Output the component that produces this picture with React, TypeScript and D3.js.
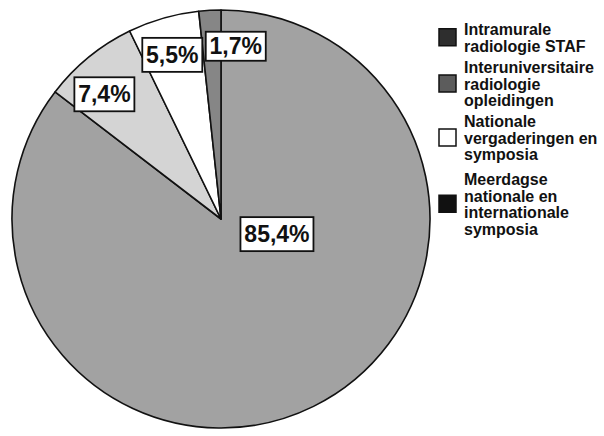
import React from "react";
import * as d3 from "d3";

const categories = [
  "Intramurale radiologie STAF",
  "Interuniversitaire radiologie opleidingen",
  "Nationale vergaderingen en symposia",
  "Meerdagse nationale en internationale symposia",
];
const values = [85.4, 7.4, 5.5, 1.7];
const valueLabels = ["85,4%", "7,4%", "5,5%", "1,7%"];
const legendLines = [
  ["Intramurale", "radiologie STAF"],
  ["Interuniversitaire", "radiologie", "opleidingen"],
  ["Nationale", "vergaderingen en", "symposia"],
  ["Meerdagse", "nationale en", "internationale", "symposia"],
];

const sliceColors = ["#a2a2a2", "#d4d4d4", "#ffffff", "#868686"];
const iconColors = ["#2e2e2e", "#5c5c5c", "#ffffff", "#111111"];
// label placement: angle nudge (deg) and radius fraction
const labelLayout = [
  { nudge: -46.7, rf: 0.28 },
  { nudge: -4.3, rf: 0.81 },
  { nudge: -0.7, rf: 0.81 },
  { nudge: 8, rf: 0.82 },
];

const W = 604;
const H = 436;
const cx = 221;
const cy = 219;
const R = 209;

export default function App() {
  const pie = d3
    .pie<number>()
    .sort(null)
    .value((d) => d)
    .startAngle(0)
    .endAngle(2 * Math.PI);
  const arcs = pie(values);
  const arcGen = d3.arc<d3.PieArcDatum<number>>().innerRadius(0).outerRadius(R);

  const font = "'Liberation Sans', Arial, sans-serif";

  const legendX = 439;
  const textX = 464;
  const lineH = 16.5;
  const groupStarts = [35, 73, 127, 185];

  return (
    <div style={{ position: "fixed", left: 0, top: 0, background: "#fff" }}>
      <svg width={W} height={H} style={{ display: "block" }}>
        <rect x={0} y={0} width={W} height={H} fill="#fff" />
        <g transform={`translate(${cx},${cy})`}>
          {arcs.map((a, i) => (
            <path
              key={i}
              d={arcGen(a) || ""}
              fill={sliceColors[i]}
              stroke="#111"
              strokeWidth={1.6}
              strokeLinejoin="round"
            />
          ))}
          {arcs.map((a, i) => {
            const mid = (a.startAngle + a.endAngle) / 2 + (labelLayout[i].nudge * Math.PI) / 180;
            const rr = labelLayout[i].rf * R;
            const x = rr * Math.sin(mid);
            const y = -rr * Math.cos(mid) - 2;
            const t = valueLabels[i];
            const bw = t.length * 13 + 8;
            const bh = i === 3 ? 29 : 34;
            return (
              <g key={"l" + i} transform={`translate(${x},${y})`}>
                <rect
                  x={-bw / 2}
                  y={-bh / 2}
                  width={bw}
                  height={bh}
                  fill="#fff"
                  stroke="#111"
                  strokeWidth={1.8}
                />
                <text
                  x={0}
                  y={8}
                  textAnchor="middle"
                  fontFamily={font}
                  fontWeight="bold"
                  fontSize={23}
                  fill="#111"
                >
                  {t}
                </text>
              </g>
            );
          })}
        </g>
        <g>
          {categories.map((c, i) => {
            const lines = legendLines[i];
            const y0 = groupStarts[i];
            const midY = y0 + ((lines.length - 1) * lineH) / 2 - 6;
            return (
              <g key={c}>
                <rect
                  x={legendX}
                  y={midY - 8.5}
                  width={17}
                  height={17}
                  fill={iconColors[i]}
                  stroke="#111"
                  strokeWidth={1.5}
                />
                <text fontFamily={font} fontWeight="bold" fontSize={16} fill="#111">
                  {lines.map((ln, j) => (
                    <tspan key={j} x={textX} y={y0 + j * lineH}>
                      {ln}
                    </tspan>
                  ))}
                </text>
              </g>
            );
          })}
        </g>
      </svg>
    </div>
  );
}
